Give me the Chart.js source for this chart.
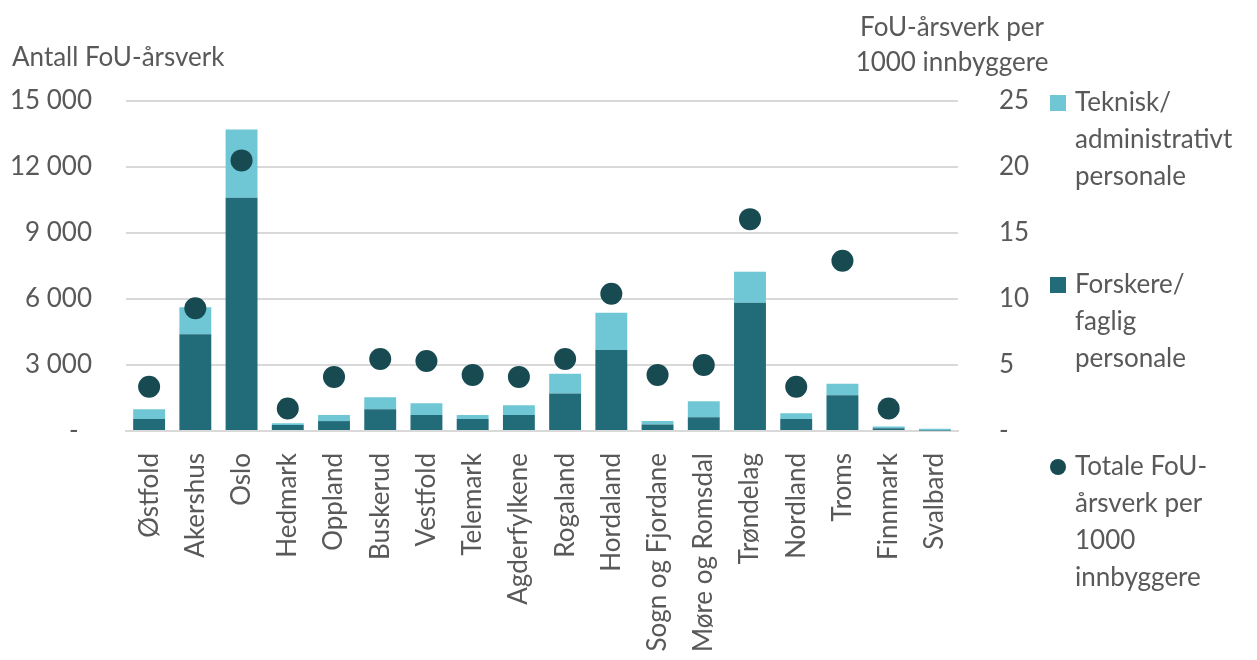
<!DOCTYPE html>
<html>
<head>
<meta charset="utf-8">
<script src="https://cdn.jsdelivr.net/npm/chart.js@4.4.1/dist/chart.umd.min.js"></script>
<style>
  html, body { margin: 0; padding: 0; background: #fff; }
  #wrap { width: 1257px; height: 660px; }
</style>
</head>
<body>
<div id="wrap"><canvas id="myChart"></canvas></div>
<script>
  // data
  const fylker = ['Østfold', 'Akershus', 'Oslo', 'Hedmark', 'Oppland', 'Buskerud', 'Vestfold', 'Telemark',
    'Agderfylkene', 'Rogaland', 'Hordaland', 'Sogn og Fjordane', 'Møre og Romsdal', 'Trøndelag',
    'Nordland', 'Troms', 'Finnmark', 'Svalbard'];
  const forskere = [550, 4400, 10600, 270, 450, 990, 730, 550, 730, 1710, 3680, 300, 620, 5830, 550, 1620, 120, 20];
  const teknisk = [440, 1220, 3100, 80, 280, 540, 530, 180, 440, 890, 1700, 150, 730, 1410, 260, 530, 80, 80];
  const perTusen = [3.35, 9.3, 20.5, 1.7, 4.1, 5.45, 5.3, 4.25, 4.1, 5.45, 10.4, 4.25, 5.0, 16.05, 3.35, 12.9, 1.7, null];

  const leftTickLabels = ['-  ', '3 000', '6 000', '9 000', '12 000', '15 000'];
  const rightTickLabels = ['-', '5', '10', '15', '20', '25'];

  const lightColor = '#6fc7d6';
  const darkColor = '#226b78';
  const dotColor = '#184a52';
  const textColor = '#595959';
  const fontFamily = 'Lato, "Open Sans", sans-serif';

  Chart.defaults.font.family = fontFamily;
  Chart.defaults.font.size = 26;
  Chart.defaults.color = textColor;

  // titles and the legend on the right, drawn by hand
  const extras = {
    id: 'extras',
    afterDraw(chart) {
      const ctx = chart.ctx;
      ctx.save();
      ctx.font = '26px ' + fontFamily;
      ctx.fillStyle = textColor;
      ctx.textBaseline = 'middle';
      ctx.textAlign = 'left';
      ctx.fillText('Antall FoU-årsverk', 12, 58);
      ctx.textAlign = 'center';
      ctx.fillText('FoU-årsverk per', 952, 28);
      ctx.fillText('1000 innbyggere', 952, 63);

      const items = [
        { kind: 'box', color: lightColor, y: 103, lines: ['Teknisk/', 'administrativt', 'personale'] },
        { kind: 'box', color: darkColor, y: 285, lines: ['Forskere/', 'faglig', 'personale'] },
        { kind: 'dot', color: dotColor, y: 467, lines: ['Totale FoU-', 'årsverk per', '1000', 'innbyggere'] }
      ];
      ctx.textAlign = 'left';
      items.forEach(it => {
        ctx.fillStyle = it.color;
        if (it.kind === 'box') {
          ctx.fillRect(1050, it.y - 8, 16, 16);
        } else {
          ctx.beginPath();
          ctx.arc(1058, it.y, 8, 0, Math.PI * 2);
          ctx.fill();
        }
        ctx.fillStyle = textColor;
        it.lines.forEach((line, i) => ctx.fillText(line, 1075, it.y + i * 37));
      });
      ctx.restore();
    }
  };

  const ctx = document.getElementById('myChart').getContext('2d');
  const myChart = new Chart(ctx, {
    type: 'bar',
    data: {
      labels: fylker,
      datasets: [
        {
          type: 'line',
          label: 'Totale FoU-årsverk per 1000 innbyggere',
          data: perTusen,
          yAxisID: 'y2',
          showLine: false,
          pointRadius: 11,
          pointBackgroundColor: dotColor,
          pointBorderWidth: 0,
          order: 0
        },
        {
          label: 'Forskere/faglig personale',
          data: forskere,
          backgroundColor: darkColor,
          stack: 's',
          yAxisID: 'y',
          order: 1
        },
        {
          label: 'Teknisk/administrativt personale',
          data: teknisk,
          backgroundColor: lightColor,
          stack: 's',
          yAxisID: 'y',
          order: 1
        }
      ]
    },
    options: {
      responsive: true,
      maintainAspectRatio: false,
      animation: false,
      events: [],
      datasets: {
        bar: { categoryPercentage: 1, barPercentage: 0.69 }
      },
      layout: { padding: { top: 101, right: 219, bottom: 0, left: 0 } },
      plugins: {
        legend: { display: false },
        tooltip: { enabled: false }
      },
      scales: {
        x: {
          stacked: true,
          grid: { display: false },
          border: { color: '#d9d9d9', width: 2 },
          ticks: { maxRotation: 90, minRotation: 90, padding: 14, autoSkip: false },
          afterFit(scale) { scale.height = 229; }
        },
        y: {
          position: 'left',
          stacked: true,
          min: 0,
          max: 15000,
          grid: { color: '#d9d9d9', lineWidth: 2, drawTicks: false },
          border: { display: false },
          ticks: {
            stepSize: 3000,
            padding: 34,
            callback: (v, i) => leftTickLabels[i]
          },
          afterFit(scale) { scale.width = 126; }
        },
        y2: {
          position: 'right',
          min: 0,
          max: 25,
          grid: { display: false, drawTicks: false },
          border: { display: false },
          ticks: {
            stepSize: 5,
            padding: 41,
            callback: (v, i) => rightTickLabels[i]
          },
          afterFit(scale) { scale.width = 80; }
        }
      }
    },
    plugins: [extras]
  });
</script>
</body>
</html>
